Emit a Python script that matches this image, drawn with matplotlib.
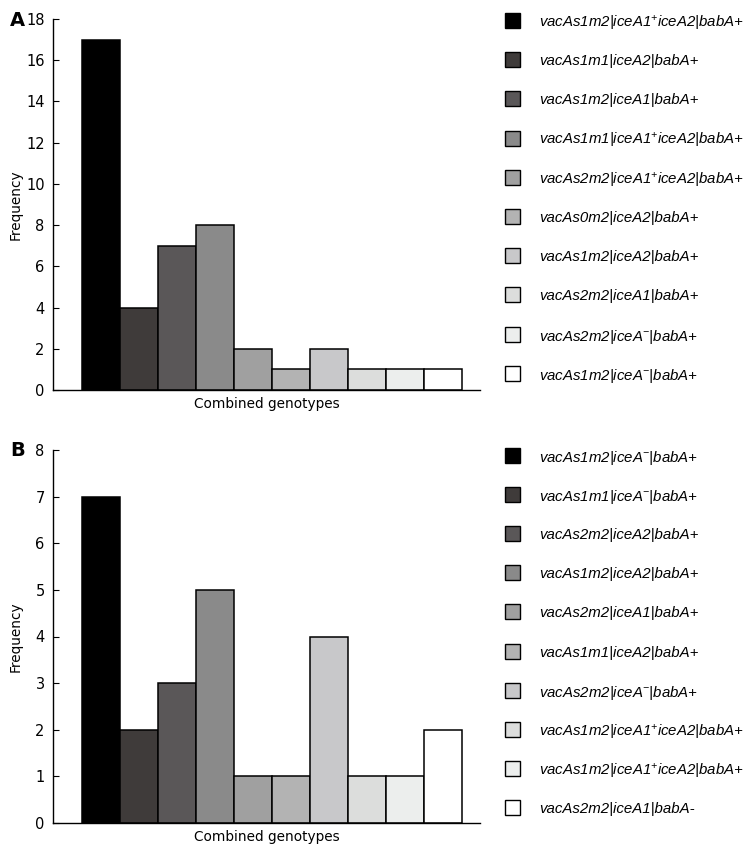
import numpy as np
import matplotlib.pyplot as plt
from matplotlib.patches import Rectangle

# frequencies
freq_a = [17, 4, 7, 8, 2, 1, 2, 1, 1, 1]
freq_b = [7, 2, 3, 5, 1, 1, 4, 1, 1, 2]

labels_a = [
    r'vacAs1m2|iceA1$^{+}$iceA2|babA+',
    'vacAs1m1|iceA2|babA+',
    'vacAs1m2|iceA1|babA+',
    r'vacAs1m1|iceA1$^{+}$iceA2|babA+',
    r'vacAs2m2|iceA1$^{+}$iceA2|babA+',
    'vacAs0m2|iceA2|babA+',
    'vacAs1m2|iceA2|babA+',
    'vacAs2m2|iceA1|babA+',
    r'vacAs2m2|iceA$^{-}$|babA+',
    r'vacAs1m2|iceA$^{-}$|babA+',
]
labels_b = [
    r'vacAs1m2|iceA$^{-}$|babA+',
    r'vacAs1m1|iceA$^{-}$|babA+',
    'vacAs2m2|iceA2|babA+',
    'vacAs1m2|iceA2|babA+',
    'vacAs2m2|iceA1|babA+',
    'vacAs1m1|iceA2|babA+',
    r'vacAs2m2|iceA$^{-}$|babA+',
    r'vacAs1m2|iceA1$^{+}$iceA2|babA+',
    r'vacAs1m2|iceA1$^{+}$iceA2|babA+',
    'vacAs2m2|iceA1|babA-',
]
grays = ['#000000', '#3f3b3a', '#5a5758', '#8a8a8a', '#a0a0a0',
         '#b3b3b3', '#c8c8ca', '#dcdddc', '#eceeed', '#ffffff']

plt.rcParams['font.family'] = ['DejaVu Sans']
plt.rcParams['mathtext.fontset'] = 'custom'
plt.rcParams['mathtext.rm'] = 'Liberation Sans:italic'
plt.rcParams['mathtext.it'] = 'Liberation Sans:italic'
plt.rcParams['mathtext.default'] = 'it'

fig = plt.figure(figsize=(7.49, 8.51), dpi=100)
W, H = 749, 851

def panel(top, bottom, freq, labels, ymax, letter, leg_top):
    ax = fig.add_axes([53 / W, 1 - bottom / H, (480 - 53) / W, (bottom - top) / H])
    x = np.arange(len(freq))
    ax.bar(x, freq, width=1.0, color=grays, edgecolor='black', linewidth=1.1)
    ax.set_xlim(-1.263, 9.97)
    ax.set_ylim(0, ymax)
    ax.set_yticks(np.arange(0, ymax + 1, 2 if ymax > 10 else 1))
    ax.set_xticks([])
    ax.spines['top'].set_visible(False)
    ax.spines['right'].set_visible(False)
    ax.spines['left'].set_linewidth(1.0)
    ax.spines['bottom'].set_linewidth(1.0)
    ax.tick_params(axis='y', direction='in', length=4, width=0.8, labelsize=10.5,
                   colors='black', pad=6)
    ax.set_ylabel('Frequency', fontsize=9.8)
    ax.yaxis.set_label_coords(-0.07, 0.5)
    ax.set_xlabel('Combined genotypes', fontsize=9.8, labelpad=5)
    fig.text(10 / W, 1 - (top + 1) / H, letter, fontsize=14, fontweight='bold', va='center')

    # legend: one swatch per bar, stacked down the right side
    for i, (c, lab) in enumerate(zip(grays, labels)):
        yc = leg_top + 39.2 * i
        fig.patches.append(Rectangle((505 / W, 1 - (yc + 7.5) / H), 15 / W, 15 / H,
                                     transform=fig.transFigure, facecolor=c,
                                     edgecolor='black', linewidth=1.0))
        fig.text(539 / W, 1 - yc / H, lab, fontsize=10.8, family='Liberation Sans',
                 style='italic', va='center_baseline', ha='left')
    return ax

panel(19, 390, freq_a, labels_a, 18, 'A', 20.5)
panel(450, 823, freq_b, labels_b, 8, 'B', 455)

fig.savefig('out.png', dpi=100)
